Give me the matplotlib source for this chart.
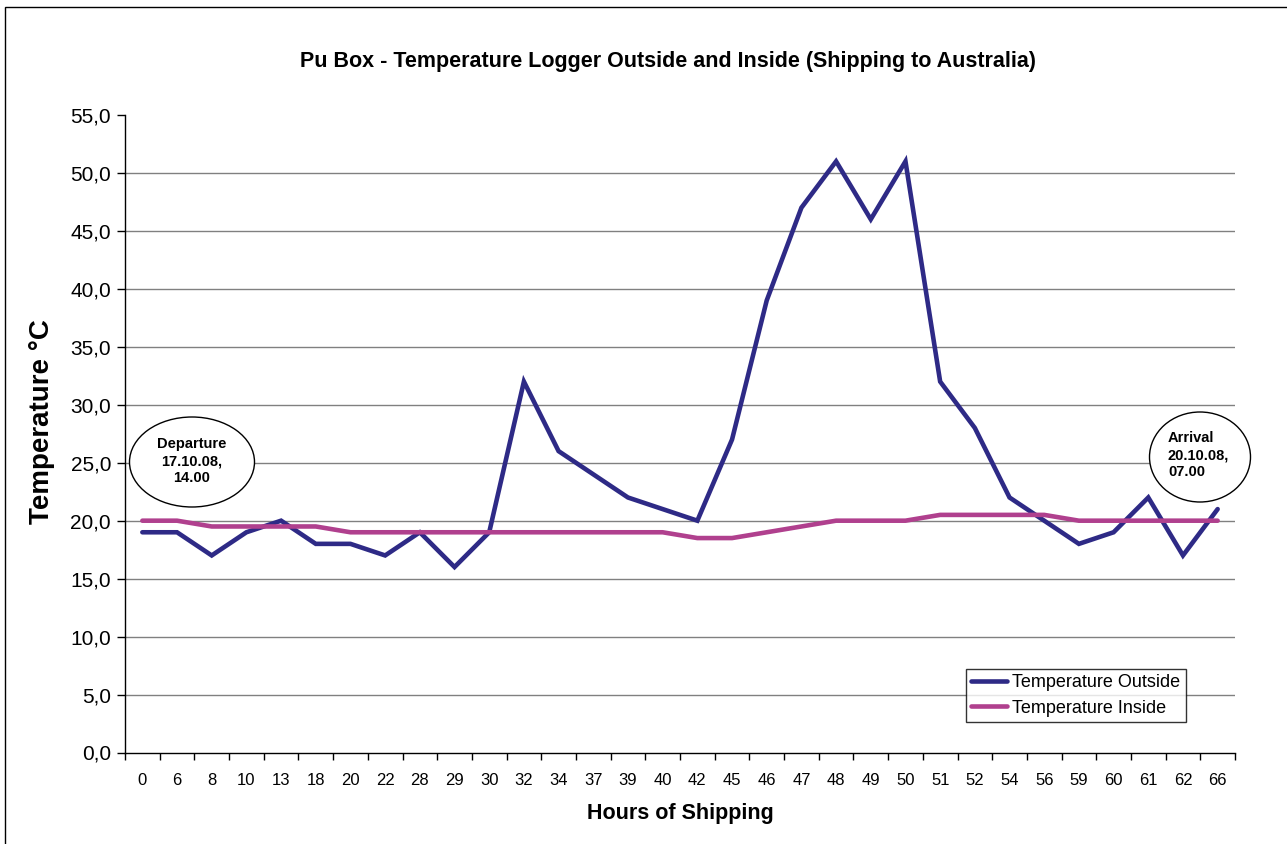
import matplotlib.pyplot as plt
import numpy as np
from matplotlib.patches import Ellipse, Rectangle
from matplotlib.ticker import FuncFormatter

plt.rcParams['font.family'] = ['Liberation Sans', 'DejaVu Sans']

# data
hours = ['0', '6', '8', '10', '13', '18', '20', '22', '28', '29', '30', '32', '34', '37', '39', '40',
         '42', '45', '46', '47', '48', '49', '50', '51', '52', '54', '56', '59', '60', '61', '62', '66']
temp_outside = [19, 19, 17, 19, 20, 18, 18, 17, 19, 16, 19, 32, 26, 24, 22, 21,
                20, 27, 39, 47, 51, 46, 51, 32, 28, 22, 20, 18, 19, 22, 17, 21]
temp_inside = [20, 20, 19.5, 19.5, 19.5, 19.5, 19, 19, 19, 19, 19, 19, 19, 19, 19, 19,
               18.5, 18.5, 19, 19.5, 20, 20, 20, 20.5, 20.5, 20.5, 20.5, 20, 20, 20, 20, 20]

W, H = 1287, 844
fig = plt.figure(figsize=(W / 100, H / 100), dpi=100)
ax = fig.add_axes([125 / W, 1 - 752.5 / H, 1110 / W, 637.5 / H])

x = np.arange(len(hours))
ax.plot(x, temp_outside, color='#2E2A86', lw=3.3, solid_capstyle='round', solid_joinstyle='miter',
        label='Temperature Outside', zorder=3)
ax.plot(x, temp_inside, color='#B0408E', lw=3.3, solid_capstyle='round',
        label='Temperature Inside', zorder=3)

ax.set_xlim(-0.5, len(hours) - 0.5)
ax.set_ylim(0, 55)
ax.set_yticks(np.arange(0, 56, 5))
ax.yaxis.set_major_formatter(FuncFormatter(lambda v, p: ('%.1f' % v).replace('.', ',')))
ax.tick_params(axis='y', labelsize=15, length=6, width=1, direction='out', pad=4)
for yv in np.arange(5, 51, 5):
    ax.axhline(yv, color='#808080', lw=1, zorder=1)

# category ticks between labels, Excel style
ax.set_xticks(np.arange(-0.5, len(hours)), labels=[])
ax.set_xticks(x, minor=True)
ax.set_xticklabels(hours, minor=True)
ax.tick_params(axis='x', which='major', length=5, width=1, direction='out')
ax.tick_params(axis='x', which='minor', length=0, labelsize=12, pad=15)

for s in ['top', 'right']:
    ax.spines[s].set_visible(False)
for s in ['left', 'bottom']:
    ax.spines[s].set_linewidth(1)

leg = ax.legend(loc='lower right', bbox_to_anchor=(1186 / W, 1 - 722 / H), bbox_transform=fig.transFigure,
                fontsize=13, frameon=True, fancybox=False, handlelength=2.0, handletextpad=0.3,
                borderpad=0.3, labelspacing=0.45, borderaxespad=0)
leg.get_frame().set_edgecolor('black')
leg.get_frame().set_linewidth(1)

fig.text(668 / W, 1 - 62 / H, 'Pu Box - Temperature Logger Outside and Inside (Shipping to Australia)',
         ha='center', va='center', fontsize=15.5, fontweight='bold')
fig.text(42 / W, 1 - 422 / H, 'Temperature °C', rotation=90, ha='center', va='center',
         fontsize=20, fontweight='bold')
fig.text(680 / W, 1 - 814 / H, 'Hours of Shipping', ha='center', va='center',
         fontsize=15.5, fontweight='bold')

# outer frame
fig.patches.append(Rectangle((5 / W, -0.1), 1.2, 1 - 7 / H + 0.1, transform=fig.transFigure,
                             fill=False, edgecolor='black', lw=1))

# callouts
fig.patches.append(Ellipse((192 / W, 1 - 462 / H), 125 / W, 90 / H, transform=fig.transFigure,
                           facecolor='white', edgecolor='black', lw=1, zorder=5))
fig.text(192 / W, 1 - 461 / H, 'Departure\n17.10.08,\n14.00', ha='center', va='center',
         fontsize=10.5, fontweight='bold', linespacing=1.3, zorder=6)
fig.patches.append(Ellipse((1200 / W, 1 - 457 / H), 101 / W, 90 / H, transform=fig.transFigure,
                           facecolor='white', edgecolor='black', lw=1, zorder=5))
fig.text(1168 / W, 1 - 455 / H, 'Arrival\n20.10.08,\n07.00', ha='left', va='center',
         fontsize=10.5, fontweight='bold', linespacing=1.3, zorder=6)

fig.savefig('out.png', dpi=100)
